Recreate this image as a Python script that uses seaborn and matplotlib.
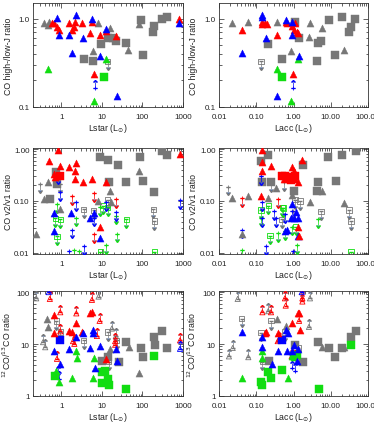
import numpy as np
import pandas as pd
import matplotlib
matplotlib.use("Agg")
import matplotlib.pyplot as plt
import seaborn as sns
from matplotlib.ticker import LogLocator, NullFormatter

sns.set_theme(style="ticks")
plt.rcParams['font.family'] = ['Liberation Sans', 'DejaVu Sans']
plt.rcParams['mathtext.fontset'] = 'dejavusans'

RED, BLUE, GREEN, GRAY = '#ff0000', '#0000ff', '#11dd11', '#777777'

# ---------------- panel 1 : CO high-/low-J vs Lstar ----------------
P1_SQ_GRAY = [(3.54, 0.35), (5.9, 0.33), (9.45, 0.51), (13.8, 0.61), (18.3, 0.60), (22.5, 0.56),
              (39.6, 0.53), (102, 0.39), (91, 0.97), (194, 0.82), (180, 0.71), (310, 0.99), (397, 1.05)]
P1_TRI_GRAY = [(0.37, 0.90), (0.49, 0.92), (0.47, 0.84), (6.0, 0.43), (7.82, 0.88), (15.4, 0.79),
               (45, 0.44), (84, 0.86)]
P1_TRI_RED = [(0.59, 0.90), (0.67, 0.88), (0.78, 0.81), (0.86, 0.74), (1.51, 0.90), (1.83, 0.74),
              (2.09, 0.81), (2.21, 0.92), (3.22, 0.90), (5.16, 0.68), (5.68, 0.92), (8.77, 0.66),
              (12.3, 0.73), (22.5, 0.64), (6.48, 0.235), (800, 1.0)]
P1_TRI_BLUE = [(0.78, 1.02), (0.86, 0.65), (1.51, 0.65), (1.83, 0.41), (2.34, 1.11), (3.41, 0.60),
               (5.68, 1.0), (8.77, 0.38), (12.8, 0.76), (23.4, 0.134), (800, 0.88)]
P1_LIM_BLUE = [(6.85, 0.164)]
P1_TRI_GREEN = [(0.46, 0.27), (6.48, 0.118), (12.8, 0.346)]
P1_SQ_GREEN = [(11.4, 0.221)]
P1_OSQ_GRAY = [(13.8, 0.33)]

# ---------------- panel 2 : CO high-/low-J vs Lacc ----------------
P2_SQ_GRAY = [(0.21, 0.51), (0.50, 0.35), (1.10, 0.92), (1.43, 0.60), (4.19, 0.33), (4.64, 0.53),
              (5.47, 0.56), (9.0, 0.97), (13, 0.39), (20.5, 1.05), (30.9, 0.71), (34.3, 0.81), (44.8, 0.99)]
P2_TRI_GRAY = [(0.023, 0.90), (0.059, 0.92), (0.35, 0.92), (0.86, 0.43), (2.77, 0.88), (2.6, 0.62),
               (5.7, 0.79), (23, 0.44)]
P2_TRI_RED = [(0.042, 0.74), (0.14, 0.92), (0.146, 0.86), (0.172, 0.90), (0.19, 0.86), (0.37, 0.65),
              (0.62, 0.92), (0.66, 0.90), (0.93, 0.83), (1.05, 0.74), (1.22, 0.71), (1.29, 0.68),
              (0.99, 0.235), (1.10, 0.88)]
P2_TRI_BLUE = [(0.042, 0.41), (0.14, 1.11), (0.146, 1.05), (0.179, 0.60), (0.37, 0.134), (0.62, 0.96),
               (0.89, 0.92), (0.93, 0.65), (1.41, 0.38)]
P2_LIM_BLUE = [(0.99, 0.164)]
P2_TRI_GREEN = [(0.35, 0.27), (0.86, 0.118), (1.29, 0.35)]
P2_SQ_GREEN = [(0.48, 0.221)]
P2_OSQ_GRAY = [(0.134, 0.33)]

# ---------------- panel 3 : CO v2/v1 vs Lstar ----------------
P3_SQ_GRAY = [(0.52, 0.109), (0.75, 0.357), (0.78, 0.212), (9.1, 0.70), (13.8, 0.62), (14.6, 0.229),
              (24.7, 0.50), (39.6, 0.229), (88, 0.70), (102, 0.246), (194, 0.15), (310, 0.90), (412, 0.78)]
P3_TRI_GRAY = [(0.24, 0.0234), (0.37, 0.11), (0.47, 0.236), (0.91, 0.069), (7.82, 0.10), (15.4, 0.157),
               (17, 0.094), (84, 0.385)]
P3_OSQ_GRAY = [(3.54, 0.069), (6.24, 0.066), (13.8, 0.105), (186, 0.069), (194, 0.041)]
P3_LIM_GRAY = [(0.30, 0.212), (0.91, 0.212)]
P3_OSQ_GREEN = [(0.71, 0.046), (0.78, 0.021), (0.94, 0.044), (10.6, 0.081), (13.8, 0.075),
                (39.6, 0.044), (194, 0.0105), (9.1, 0.0105)]
P3_LIM_GREEN = [(0.78, 0.087), (2.01, 0.0116), (2.67, 0.0108), (2.34, 0.048), (9.1, 0.075),
                (12.8, 0.0139), (22.5, 0.052), (23.4, 0.0234)]
P3_LIM_RED = [(1.83, 0.122), (6.24, 0.142), (6.48, 0.0227), (22.5, 0.109)]
P3_LIM_BLUE = [(0.81, 0.31), (0.91, 0.146), (2.34, 0.096), (1.83, 0.028), (3.54, 0.0135),
               (6.24, 0.048), (12.5, 0.096), (22.5, 0.06), (1.51, 0.011), (844, 0.105)]
P3_TRI_BLUE = [(0.65, 0.058), (0.65, 0.026), (1.76, 0.058), (5.16, 0.046), (6.48, 0.058), (8.77, 0.0195)]
P3_SQ_RED = [(0.94, 0.308)]
P3_TRI_RED = [(0.49, 0.60), (0.65, 0.33), (0.71, 0.286), (0.81, 0.94), (0.94, 0.47), (1.51, 0.45),
              (2.34, 0.54), (2.21, 0.385), (2.21, 0.265), (3.41, 0.236), (5.68, 0.265), (12.8, 0.229),
              (8.77, 0.032), (844, 0.81)]

# ---------------- panel 4 : CO v2/v1 vs Lacc ----------------
P4_SQ_GRAY = [(0.134, 0.60), (0.21, 0.78), (0.146, 0.236), (0.249, 0.236), (1.05, 0.157), (1.84, 0.50),
              (4.46, 0.236), (8.6, 0.70), (13.5, 0.246), (19.6, 0.78), (46.7, 0.90), (4.19, 0.157)]
P4_TRI_GRAY = [(0.0228, 0.112), (0.0406, 0.0234), (0.059, 0.122), (0.203, 0.112), (0.332, 0.175),
               (0.89, 0.13), (2.77, 0.094), (5.94, 0.157), (23.2, 0.091)]
P4_OSQ_GRAY = [(0.48, 0.044), (1.10, 0.105), (1.50, 0.10), (5.47, 0.063), (30.9, 0.067), (35, 0.041)]
P4_LIM_GRAY = [(0.017, 0.19), (0.249, 0.22), (0.567, 0.23), (0.99, 0.065)]
P4_OSQ_GREEN = [(0.134, 0.067), (0.21, 0.081), (0.234, 0.0215), (0.50, 0.074), (0.533, 0.073),
                (1.14, 0.032), (35, 0.0105)]
P4_LIM_GREEN = [(0.042, 0.0116), (0.134, 0.048), (0.376, 0.024), (0.59, 0.026), (0.89, 0.032),
                (1.22, 0.0139), (4.64, 0.044)]
P4_LIM_RED = [(0.042, 0.112), (0.376, 0.109)]
P4_LIM_BLUE = [(0.134, 0.30), (0.14, 0.094), (0.14, 0.046), (0.042, 0.028), (0.179, 0.0135),
               (0.306, 0.064), (0.332, 0.046), (0.59, 0.055), (0.89, 0.064), (0.99, 0.0108)]
P4_TRI_BLUE = [(0.59, 0.026), (0.656, 0.027), (0.857, 0.046), (0.89, 0.087), (1.05, 0.046),
               (1.29, 0.046), (1.35, 0.021), (1.14, 0.062)]
P4_SQ_RED = [(0.48, 0.308), (0.59, 0.308), (0.727, 0.286), (0.857, 0.25), (1.10, 0.30)]
P4_TRI_RED = [(0.14, 0.94), (0.14, 0.56), (0.146, 0.385), (0.249, 0.47), (0.567, 0.265), (0.93, 0.45),
              (1.05, 0.385), (1.10, 0.265), (1.29, 0.236), (1.35, 0.032), (1.41, 0.021), (1.66, 0.62),
              (0.134, 0.122)]

# ---------------- panel 5 : 12CO/13CO vs Lstar ----------------
P5_SQ_GRAY = [(10, 4.8), (13.8, 5.6), (26.7, 4.6), (39.6, 10.9), (92.6, 8.4), (102, 5.6), (194, 13.7),
              (205, 9.7), (310, 17.6), (412, 8.4)]
P5_TRI_GRAY = [(0.46, 21.4), (0.44, 31), (16, 8.1), (47.9, 8.7), (84, 2.77)]
P5_OTRI_GRAY = [(0.24, 76), (0.354, 10.9), (0.40, 8.7), (8.27, 82), (17.6, 19.9), (22, 14.3)]
P5_OSQ_GRAY = [(0.75, 27.7), (0.94, 17.1), (3.54, 11.8), (13.8, 17.1), (14.6, 4.6), (23.4, 11.8)]
P5_OTRI_RED = [(0.52, 74), (0.94, 41), (0.94, 17.6), (2.34, 39), (1.94, 11.4), (2.09, 10.1), (5.68, 71),
               (7.53, 14.3), (8.77, 28), (21.2, 11.4), (21.2, 9.7), (844, 11.8), (0.78, 5.2)]
P5_OTRI_BLUE = [(0.49, 100), (844, 8.1)]
P5_LIM_BLUE = [(0.81, 2.64), (0.86, 2.11)]
P5_SQ_GREEN = [(0.71, 2.45), (10, 2.85), (10, 1.77), (12.1, 3.07), (13.8, 2.11), (14.6, 1.61),
               (39.6, 1.39), (194, 5.8)]
P5_TRI_GREEN = [(0.75, 3.07), (0.86, 1.82), (1.83, 2.18), (2.34, 7.5), (2.43, 5.3), (6.0, 2.24), (6.48, 5.4)]
P5_TRI_RED = [(0.67, 37), (0.67, 16.4), (1.51, 17.6), (1.83, 17.1), (2.34, 24.9), (3.22, 17.1),
              (5.16, 39), (5.68, 41), (12.8, 5.2)]
P5_SQ_BLUE = [(0.94, 11.8)]
P5_TRI_BLUE = [(0.65, 7.5), (0.94, 4.1), (1.51, 8.1), (2.34, 13.7), (3.41, 16.6), (5.16, 8.4),
               (6.0, 18.5), (6.0, 16.4), (6.85, 3.4), (8.77, 9.0), (22.5, 8.1), (23.4, 4.8)]

# ---------------- panel 6 : 12CO/13CO vs Lacc ----------------
P6_SQ_GRAY = [(0.22, 4.8), (1.10, 9.4), (1.84, 4.6), (4.64, 10.9), (8.97, 8.4), (13, 5.6), (20.5, 8.4),
              (35, 13.7), (46.7, 17.6)]
P6_TRI_GRAY = [(0.353, 31), (0.617, 22), (5.94, 8.7), (23.2, 8.7)]
P6_OTRI_GRAY = [(0.0185, 5.8), (0.0233, 8.4), (0.0317, 74), (0.0612, 5.6), (0.21, 43), (2.77, 76), (2.6, 21.4)]
P6_OSQ_GRAY = [(0.0406, 31), (0.134, 16.6), (0.146, 4.6), (0.249, 28), (0.59, 17.1), (1.35, 8.4)]
P6_OTRI_RED = [(0.146, 41), (0.249, 41), (0.59, 76), (0.617, 55), (1.41, 28), (1.73, 76), (1.73, 66),
               (0.376, 11.4), (0.408, 12.1), (0.89, 5.8), (1.10, 5.4)]
P6_OTRI_BLUE = [(1.66, 100)]
P6_LIM_BLUE = [(0.93, 3.4), (1.10, 3.07)]
P6_SQ_GREEN = [(0.134, 1.82), (0.14, 1.61), (0.21, 2.85), (0.249, 2.24), (0.48, 3.2), (1.05, 5.8),
               (1.22, 6.2), (4.84, 1.39), (35, 9.4)]
P6_TRI_GREEN = [(0.042, 2.18), (0.146, 7.5), (0.146, 5.3), (0.697, 2.24), (0.89, 5.8), (1.05, 5.6)]
P6_TRI_RED = [(0.172, 16.6), (0.179, 17.1), (0.376, 16.4), (0.93, 24.9), (1.29, 39), (1.41, 39), (1.50, 18.5)]
P6_SQ_BLUE = [(0.48, 11.8)]
P6_TRI_BLUE = [(0.042, 17.1), (0.146, 13.7), (0.146, 8.7), (0.27, 4.1), (0.376, 7.5), (0.617, 18.5),
               (0.697, 16.4), (0.656, 7.5), (0.93, 7.5), (1.05, 9.4), (1.35, 8.1), (1.22, 4.8)]

# axis ticks / labels
LSTAR_TICKS = [1, 10, 100, 1000]
LSTAR_LABELS = ['1', '10', '100', '1000']
LACC_TICKS = [0.01, 0.1, 1, 10, 100]
LACC_LABELS = ['0.01', '0.10', '1.00', '10.00', '100.00']
HJ_TICKS, HJ_LABELS = [0.1, 1.0], ['0.1', '1.0']
V21_TICKS, V21_LABELS = [0.01, 0.1, 1.0], ['0.01', '0.10', '1.00']
ISO_TICKS, ISO_LABELS = [1, 10, 100], ['1', '10', '100']


def draw(ax, pts, kind, color, dex):
    df = pd.DataFrame(pts, columns=['x', 'y'])
    up = df['y'] * (10 ** dex - 1)
    down = df['y'] * (1 - 10 ** (-dex))
    if kind == 'tri':
        sns.scatterplot(data=df, x='x', y='y', marker='^', s=26, color=color, edgecolor=color,
                        linewidth=0.3, ax=ax, legend=False, zorder=4)
    elif kind == 'sq':
        sns.scatterplot(data=df, x='x', y='y', marker='s', s=38, color=color, edgecolor=color,
                        linewidth=0.3, ax=ax, legend=False, zorder=3)
    elif kind == 'otri':   # open triangle, lower limit
        sns.scatterplot(data=df, x='x', y='y', marker='^', s=14, color=color, facecolor='none',
                        edgecolor=color, linewidth=0.6, ax=ax, legend=False, zorder=3)
        ax.errorbar(df['x'], df['y'], yerr=[np.zeros(len(df)), up], lolims=True, fmt='none',
                    ecolor=color, elinewidth=0.5, capsize=1.2, zorder=3)
    elif kind == 'osq':    # open square, upper limit
        sns.scatterplot(data=df, x='x', y='y', marker='s', s=14, color=color, facecolor='none',
                        edgecolor=color, linewidth=0.6, ax=ax, legend=False, zorder=3)
        ax.errorbar(df['x'], df['y'], yerr=[down, np.zeros(len(df))], uplims=True, fmt='none',
                    ecolor=color, elinewidth=0.5, capsize=1.2, zorder=3)
    elif kind == 'plus_up':
        sns.scatterplot(data=df, x='x', y='y', marker='+', s=12, color=color, linewidth=0.6,
                        ax=ax, legend=False, zorder=3)
        ax.errorbar(df['x'], df['y'], yerr=[np.zeros(len(df)), up], lolims=True, fmt='none',
                    ecolor=color, elinewidth=0.5, capsize=1.2, zorder=3)
    elif kind == 'plus_down':
        sns.scatterplot(data=df, x='x', y='y', marker='+', s=12, color=color, linewidth=0.6,
                        ax=ax, legend=False, zorder=3)
        ax.errorbar(df['x'], df['y'], yerr=[down, np.zeros(len(df))], uplims=True, fmt='none',
                    ecolor=color, elinewidth=0.5, capsize=1.2, zorder=3)


def setup(ax, xlim, ylim, xt, xl, yt, yl, xlabel, ylabel, lab_x):
    ax.set_xscale('log')
    ax.set_yscale('log')
    ax.set_xticks(xt, xl)
    ax.set_yticks(yt, yl)
    ax.set_xlim(xlim)
    ax.set_ylim(ylim)
    for a in (ax.xaxis, ax.yaxis):
        a.set_minor_locator(LogLocator(base=10, subs=np.arange(2, 10), numticks=30))
        a.set_minor_formatter(NullFormatter())
    ax.tick_params(which='both', direction='in', top=True, right=True, width=0.5,
                   color='#222222', labelsize=5.8, labelcolor='#222222')
    ax.tick_params(which='major', length=3.5)
    ax.tick_params(which='minor', length=1.8)
    ax.tick_params(axis='x', pad=4)
    ax.tick_params(axis='y', pad=2.5)
    ax.set_xlabel(xlabel, fontsize=6.3, color='#222222')
    ax.set_ylabel(ylabel, fontsize=6.3, color='#222222')
    ax.xaxis.set_label_coords(0.5, -0.13)
    ax.yaxis.set_label_coords(lab_x, 0.5)
    for sp in ax.spines.values():
        sp.set_linewidth(0.6)
        sp.set_color('#333333')


W, H = 374, 427
fig = plt.figure(figsize=(W / 100, H / 100), dpi=100)


def px_axes(x0, x1, y0, y1):
    return fig.add_axes([x0 / W, 1 - y1 / H, (x1 - x0) / W, (y1 - y0) / H])


ax1 = px_axes(33, 183, 4, 108)
ax2 = px_axes(219, 368, 4, 108)
ax3 = px_axes(33, 183, 149, 255)
ax4 = px_axes(219, 368, 149, 255)
ax5 = px_axes(33, 183, 292, 397)
ax6 = px_axes(219, 368, 292, 397)

lstar_lab = r'Lstar (L$_{\odot}$)'
lacc_lab = r'Lacc (L$_{\odot}$)'

panels = [
    (ax1, 0.07, [(P1_SQ_GRAY, 'sq', GRAY), (P1_TRI_GRAY, 'tri', GRAY), (P1_OSQ_GRAY, 'osq', GRAY),
                 (P1_LIM_BLUE, 'plus_up', BLUE), (P1_SQ_GREEN, 'sq', GREEN), (P1_TRI_GREEN, 'tri', GREEN),
                 (P1_TRI_RED, 'tri', RED), (P1_TRI_BLUE, 'tri', BLUE)]),
    (ax2, 0.07, [(P2_SQ_GRAY, 'sq', GRAY), (P2_TRI_GRAY, 'tri', GRAY), (P2_OSQ_GRAY, 'osq', GRAY),
                 (P2_LIM_BLUE, 'plus_up', BLUE), (P2_SQ_GREEN, 'sq', GREEN), (P2_TRI_GREEN, 'tri', GREEN),
                 (P2_TRI_RED, 'tri', RED), (P2_TRI_BLUE, 'tri', BLUE)]),
    (ax3, 0.11, [(P3_SQ_GRAY, 'sq', GRAY), (P3_TRI_GRAY, 'tri', GRAY), (P3_OSQ_GRAY, 'osq', GRAY),
                 (P3_LIM_GRAY, 'plus_down', GRAY), (P3_OSQ_GREEN, 'osq', GREEN),
                 (P3_LIM_GREEN, 'plus_down', GREEN), (P3_LIM_RED, 'plus_down', RED),
                 (P3_LIM_BLUE, 'plus_down', BLUE), (P3_TRI_BLUE, 'tri', BLUE),
                 (P3_SQ_RED, 'sq', RED), (P3_TRI_RED, 'tri', RED)]),
    (ax4, 0.11, [(P4_SQ_GRAY, 'sq', GRAY), (P4_TRI_GRAY, 'tri', GRAY), (P4_OSQ_GRAY, 'osq', GRAY),
                 (P4_LIM_GRAY, 'plus_down', GRAY), (P4_OSQ_GREEN, 'osq', GREEN),
                 (P4_LIM_GREEN, 'plus_down', GREEN), (P4_LIM_RED, 'plus_down', RED),
                 (P4_LIM_BLUE, 'plus_down', BLUE), (P4_TRI_BLUE, 'tri', BLUE),
                 (P4_SQ_RED, 'sq', RED), (P4_TRI_RED, 'tri', RED)]),
    (ax5, 0.11, [(P5_SQ_GRAY, 'sq', GRAY), (P5_TRI_GRAY, 'tri', GRAY), (P5_OTRI_GRAY, 'otri', GRAY),
                 (P5_OSQ_GRAY, 'osq', GRAY), (P5_OTRI_RED, 'otri', RED), (P5_OTRI_BLUE, 'otri', BLUE),
                 (P5_LIM_BLUE, 'plus_up', BLUE), (P5_SQ_GREEN, 'sq', GREEN), (P5_TRI_GREEN, 'tri', GREEN),
                 (P5_TRI_RED, 'tri', RED), (P5_SQ_BLUE, 'sq', BLUE), (P5_TRI_BLUE, 'tri', BLUE)]),
    (ax6, 0.11, [(P6_SQ_GRAY, 'sq', GRAY), (P6_TRI_GRAY, 'tri', GRAY), (P6_OTRI_GRAY, 'otri', GRAY),
                 (P6_OSQ_GRAY, 'osq', GRAY), (P6_OTRI_RED, 'otri', RED), (P6_OTRI_BLUE, 'otri', BLUE),
                 (P6_LIM_BLUE, 'plus_up', BLUE), (P6_SQ_GREEN, 'sq', GREEN), (P6_TRI_GREEN, 'tri', GREEN),
                 (P6_TRI_RED, 'tri', RED), (P6_SQ_BLUE, 'sq', BLUE), (P6_TRI_BLUE, 'tri', BLUE)]),
]

for ax, dex, layers in panels:
    for pts, kind, color in layers:
        draw(ax, pts, kind, color, dex)

setup(ax1, (0.2, 1000), (0.1, 1.5), LSTAR_TICKS, LSTAR_LABELS, HJ_TICKS, HJ_LABELS,
      lstar_lab, 'CO high-/low-J ratio', -0.135)
setup(ax2, (0.01, 100), (0.1, 1.5), LACC_TICKS, LACC_LABELS, HJ_TICKS, HJ_LABELS,
      lacc_lab, 'CO high-/low-J ratio', -0.14)
setup(ax3, (0.2, 1000), (0.0095, 1.05), LSTAR_TICKS, LSTAR_LABELS, V21_TICKS, V21_LABELS,
      lstar_lab, 'CO v2/v1 ratio', -0.135)
setup(ax4, (0.01, 100), (0.0095, 1.05), LACC_TICKS, LACC_LABELS, V21_TICKS, V21_LABELS,
      lacc_lab, 'CO v2/v1 ratio', -0.14)
setup(ax5, (0.2, 1000), (1, 105), LSTAR_TICKS, LSTAR_LABELS, ISO_TICKS, ISO_LABELS,
      lstar_lab, r'$^{12}$CO/$^{13}$CO ratio', -0.135)
setup(ax6, (0.01, 100), (1, 105), LACC_TICKS, LACC_LABELS, ISO_TICKS, ISO_LABELS,
      lacc_lab, r'$^{12}$CO/$^{13}$CO ratio', -0.14)

fig.savefig('out.png', dpi=100)
